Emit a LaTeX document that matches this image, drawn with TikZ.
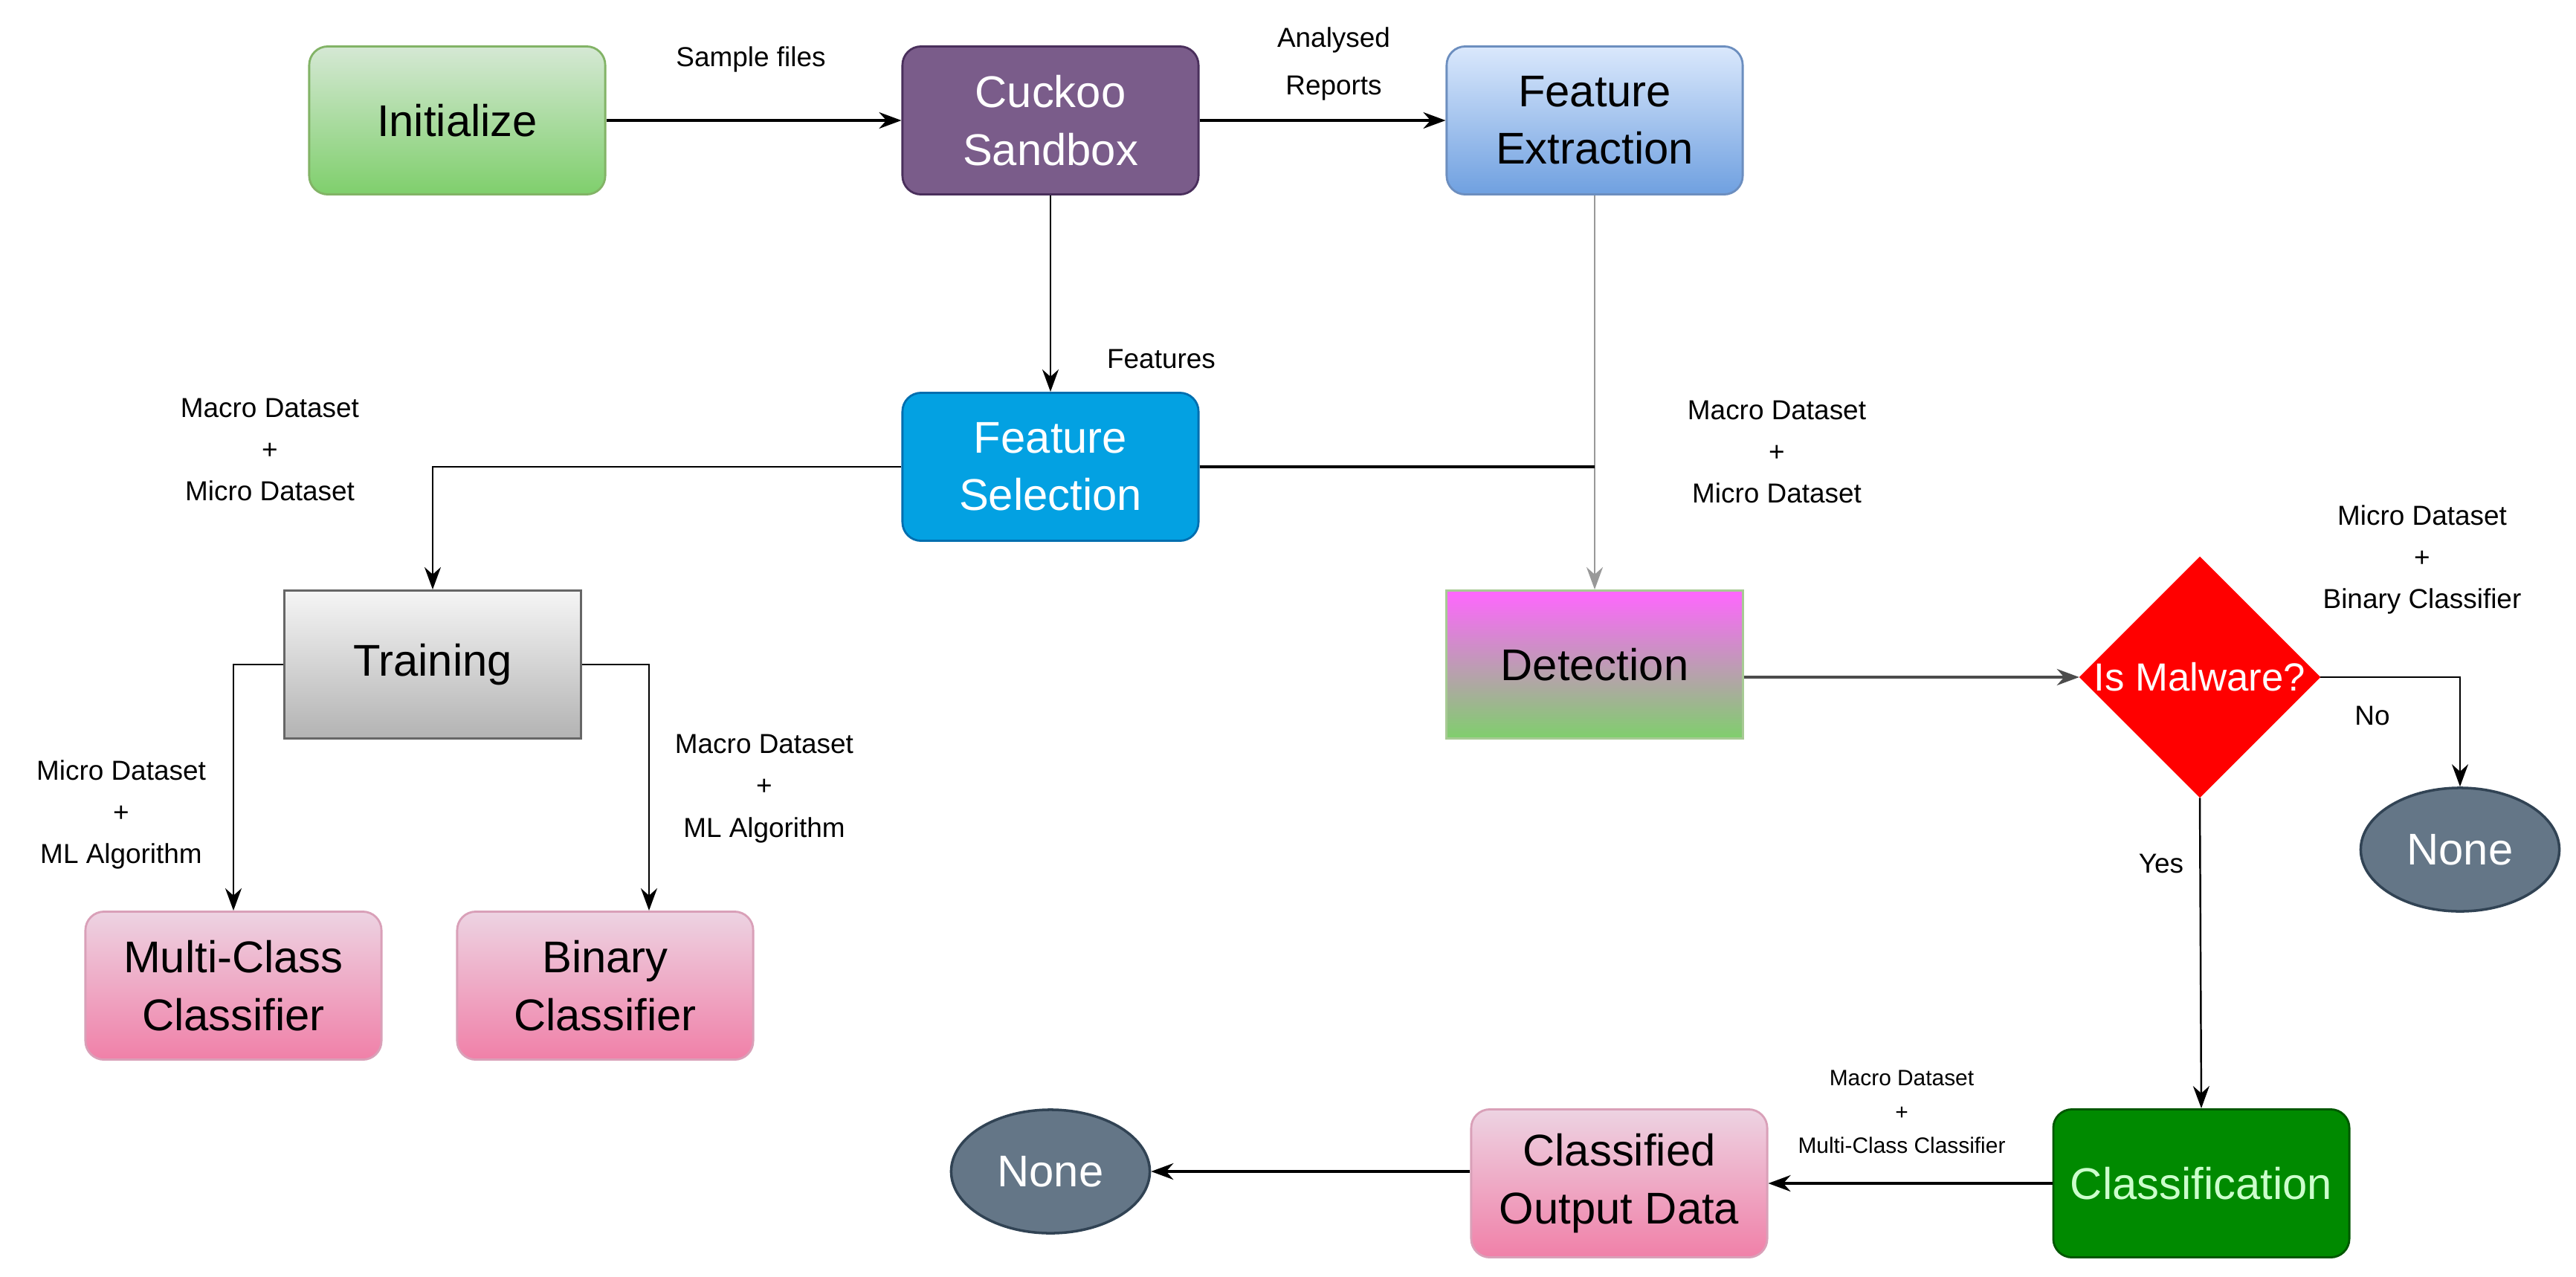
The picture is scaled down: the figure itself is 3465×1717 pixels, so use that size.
\documentclass[tikz,border=0pt]{standalone}
\usepackage{fontspec}
\setmainfont{Liberation Sans}
\usetikzlibrary{shapes.geometric,arrows.meta}
\definecolor{gA}{HTML}{D5E8D4}\definecolor{gB}{HTML}{7FCF6C}\definecolor{gL}{HTML}{82B366}
\definecolor{pu}{HTML}{7A5C8A}\definecolor{puL}{HTML}{4A2F5C}
\definecolor{bA}{HTML}{DAE8FC}\definecolor{bB}{HTML}{6FA0E0}\definecolor{bL}{HTML}{6C8EBF}
\definecolor{cy}{HTML}{03A1E2}\definecolor{cyL}{HTML}{006EAF}
\definecolor{grA}{HTML}{F5F5F5}\definecolor{grB}{HTML}{B3B3B3}\definecolor{grL}{HTML}{666666}
\definecolor{mg}{HTML}{FF66FF}
\definecolor{pkA}{HTML}{EDD3E2}\definecolor{pkB}{HTML}{F080A8}\definecolor{pkL}{HTML}{D9A0B8}
\definecolor{dg}{HTML}{008A00}\definecolor{dgL}{HTML}{005700}
\definecolor{sl}{HTML}{647687}\definecolor{slL}{HTML}{314354}
\tikzset{
 x=0.01cm,y=-0.01cm,
 box/.style={rounded corners=0.25cm,minimum width=3.98cm,minimum height=1.99cm,align=center,font=\fontsize{17}{22}\selectfont,line width=0.8pt},
 sq/.style={box,rounded corners=0},
 ell/.style={ellipse,fill=sl,draw=slL,line width=1pt,minimum width=2.67cm,minimum height=1.66cm,text=white,font=\fontsize{17}{22}\selectfont},
 lab/.style={font=\fontsize{10.5}{14}\selectfont,align=center},
 con/.style={line width=1pt,-{Stealth[length=0.3cm,width=0.22cm]}},
 thin/.style={line width=0.7pt,-{Stealth[length=0.3cm,width=0.22cm]}},
}
\begin{document}
\begin{tikzpicture}
\useasboundingbox (0,0) rectangle (3465,1717);
\node[box,top color=gA,bottom color=gB,draw=gL] (init) at (615,162) {Initialize};
\node[box,fill=pu,draw=puL,text=white] (cuckoo) at (1413,162) {Cuckoo\\Sandbox};
\node[box,top color=bA,bottom color=bB,draw=bL] (fext) at (2145,162) {Feature\\Extraction};
\node[box,fill=cy,draw=cyL,text=white] (fsel) at (1413,628) {Feature\\Selection};
\node[sq,top color=grA,bottom color=grB,draw=grL] (train) at (582,894) {Training};
\node[sq,top color=mg,bottom color=gB,draw=gL!70] (det) at (2145,894) {Detection};
\node[box,top color=pkA,bottom color=pkB,draw=pkL] (multi) at (314,1326) {Multi-Class\\Classifier};
\node[box,top color=pkA,bottom color=pkB,draw=pkL] (binary) at (814,1326) {Binary\\Classifier};
\node[diamond,fill=red,draw=red,minimum width=2.96cm,minimum height=2.98cm,inner sep=0pt,text=white,font=\fontsize{15}{18}\selectfont] (mal) at (2959,911) {Is Malware?};
\node[ell] (none1) at (3309,1143) {None};
\node[box,fill=dg,draw=dgL,text=green!20] (cls) at (2961,1592) {Classification};
\node[box,top color=pkA,bottom color=pkB,draw=pkL] (out) at (2178,1592) {Classified\\Output Data};
\node[ell] (none2) at (1413,1576) {None};

\draw[con] (init) -- (cuckoo);
\draw[con] (cuckoo) -- (fext);
\draw[thin] (cuckoo) -- (fsel);
\draw[thin,draw=black!40] (fext) -- (det);
\coordinate (j) at (2145,628);
\draw[line width=1pt] (fsel.east) -- (j);
\draw[thin] (fsel.west) -| (train.north);
\draw[thin] (train.west) -| (multi.north);
\draw[thin] (train.east) -| (873,1225);
\draw[con,draw=black!70] (det.east |- mal) -- (mal.west);
\draw[thin] (mal.east) -| (none1.north);
\draw[thin] (mal.south) -- (cls.north);
\draw[con] (cls.west |- out) -- (out.east);
\draw[con] (out.west |- none2) -- (none2.east);

\node[lab] (l1) at (1010,80) {Sample files};
\node[lab,align=center] (l2) at (1794,86) {Analysed\\[4pt]Reports};
\node[lab] (l3) at (1562,483) {Features};
\node[lab] (l4) at (363,605) {Macro Dataset\\[2pt]+\\[2pt]Micro Dataset};
\node[lab] (l5) at (2390,608) {Macro Dataset\\[2pt]+\\[2pt]Micro Dataset};
\node[lab] (l6) at (163,1096) {Micro Dataset\\[2pt]+\\[2pt]ML Algorithm};
\node[lab] (l7) at (1028,1061) {Macro Dataset\\[2pt]+\\[2pt]ML Algorithm};
\node[lab] (l8) at (3258,753) {Micro Dataset\\[2pt]+\\[2pt]Binary Classifier};
\node[lab] (l9) at (3191,963) {No};
\node[lab] (l10) at (2907,1162) {Yes};
\node[lab,font=\fontsize{8.5}{11}\selectfont] (l11) at (2558,1496) {Macro Dataset\\[2pt]+\\[2pt]Multi-Class Classifier};
\end{tikzpicture}
\end{document}
